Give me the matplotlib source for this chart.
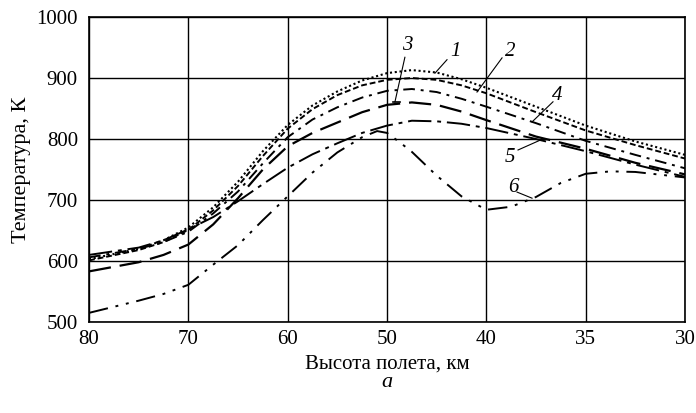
import numpy as np
import matplotlib
matplotlib.use('Agg')
import matplotlib.pyplot as plt

plt.rcParams['font.family'] = ['Liberation Serif', 'DejaVu Serif']

# altitude ticks (the axis is not linear: equal spacing between ticks)
tick_km = [80, 70, 60, 50, 40, 35, 30]

km_main = [80, 75, 72.5, 70, 67.5, 65, 62.5, 60, 57.5, 55, 52.5, 50,
           47.5, 45, 42.5, 40, 37.5, 35, 32.5, 30]
t1 = [603, 620, 634, 655, 688, 730, 780, 823, 855, 878, 896, 908,
      913, 909, 898, 884, 853, 822, 796, 774]
t2 = [601, 618, 631, 651, 683, 723, 772, 817, 849, 872, 888, 897,
      900, 897, 888, 875, 844, 814, 790, 768]
t3 = [583, 598, 610, 627, 660, 703, 750, 788, 810, 827, 844, 856,
      860, 856, 845, 831, 804, 784, 761, 742]
t4 = [606, 620, 631, 648, 678, 714, 760, 803, 832, 852, 868, 879,
      882, 877, 866, 853, 826, 797, 774, 752]
t5 = [610, 622, 634, 652, 672, 698, 726, 753, 775, 793, 810, 822,
      830, 829, 825, 818, 800, 780, 758, 738]

km6 = [80, 75, 72.5, 70, 67.5, 65, 62.5, 60, 57.5, 55, 52.5, 51, 50,
       48.75, 47.5, 45, 42.5, 40, 38.75, 37.5, 36.25, 35, 33.75, 32.5, 30]
t6 = [515, 535, 546, 561, 594, 626, 667, 706, 745, 778, 803, 813, 810,
      795, 779, 740, 706, 684, 689, 705, 728, 743, 747, 746, 737]


def to_pos(km):
    # map altitude to position on the evenly spaced tick scale
    return np.interp(-np.asarray(km, float), -np.asarray(tick_km, float),
                     np.arange(len(tick_km)))


fig = plt.figure(figsize=(6.96, 4.13), dpi=100)
ax = fig.add_axes([0.1279, 0.2203, 0.8563, 0.7385])

lw = 1.4
ax.plot(to_pos(km_main), t1, color='black', lw=1.5, linestyle=(0, (1, 1.3)))
ax.plot(to_pos(km_main), t2, color='black', lw=lw, linestyle=(0, (3, 1.5)))
ax.plot(to_pos(km_main), t4, color='black', lw=lw, linestyle=(0, (6, 3, 1.5, 3)))
ax.plot(to_pos(km_main), t3, color='black', lw=1.6, linestyle=(0, (10, 4)))
ax.plot(to_pos(km_main), t5, color='black', lw=lw, linestyle=(0, (12, 3, 2, 3)))
ax.plot(to_pos(km6), t6, color='black', lw=lw,
        linestyle=(0, (10, 4, 1.5, 4, 1.5, 4)))

ax.set_xlim(0, len(tick_km) - 1)
ax.set_ylim(500, 1000)
ax.set_xticks(np.arange(len(tick_km)))
ax.set_xticklabels([str(k) for k in tick_km])
ax.set_yticks(np.arange(500, 1001, 100))
ax.tick_params(length=0, labelsize=15)
ax.tick_params(axis='x', pad=6)
ax.tick_params(axis='y', pad=8)
ax.grid(True, color='black', lw=1.0)
for s in ax.spines.values():
    s.set_linewidth(1.2)

ax.set_xlabel('Высота полета, км', fontsize=15, labelpad=4)
ax.set_ylabel('Температура, К', fontsize=16, labelpad=4)

# curve labels with leaders
labels = [('1', (3.685, 943), (3.604, 930), (3.483, 908)),
          ('2', (4.238, 943), (4.158, 933), (3.906, 877)),
          ('3', (3.20, 954), (3.18, 934), (3.08, 861)),
          ('4', (4.712, 872), (4.671, 861), (4.46, 828)),
          ('5', (4.238, 769), (4.319, 782), (4.54, 798)),
          ('6', (4.269, 721), (4.309, 713), (4.46, 703))]
for txt, tpos, p0, p1 in labels:
    ax.text(tpos[0], tpos[1], txt, fontsize=15, style='italic',
            ha='center', va='center')
    ax.plot([p0[0], p1[0]], [p0[1], p1[1]], color='black', lw=0.8)
ax.plot([3.06, 3.13], [861, 861], color='black', lw=1.2)

fig.text(0.556, 0.073, 'a', fontsize=16, style='italic', ha='center', va='center')

fig.savefig('out.png', dpi=100)
